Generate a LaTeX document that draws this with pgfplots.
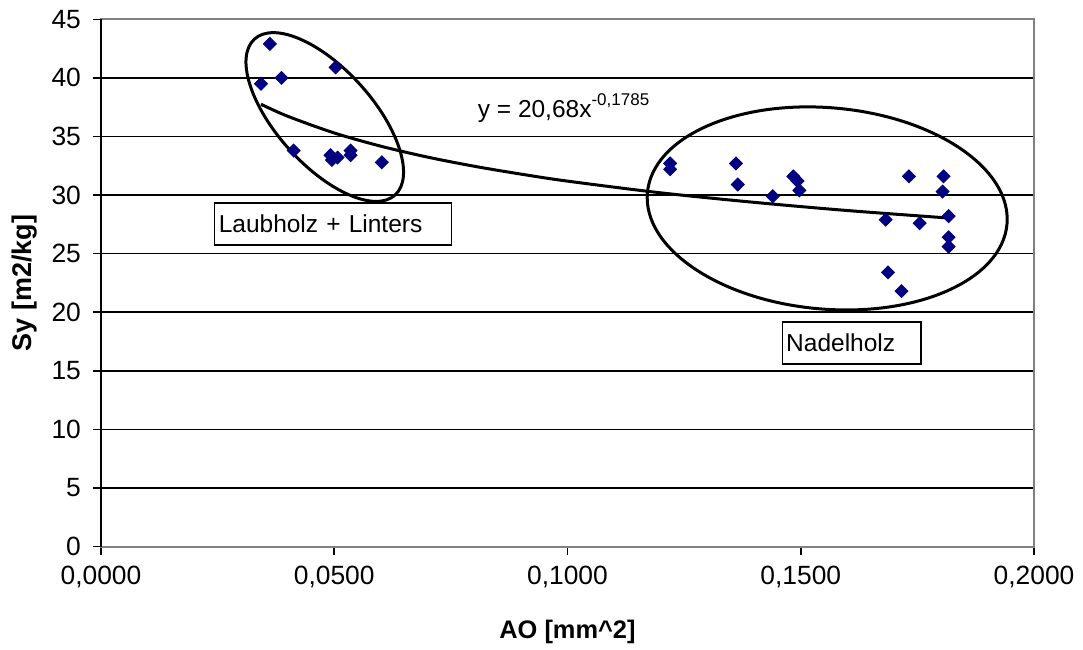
\documentclass[border=0pt]{standalone}
\usepackage{pgfplots}
\pgfplotsset{compat=1.18}
\usepackage{pgfplotstable}
\usepackage{fontspec}
\setmainfont{Liberation Sans}

\definecolor{navy}{RGB}{0,0,128}
\definecolor{framegray}{RGB}{128,128,128}

% Laubholz + Linters
\pgfplotstableread{
x y
0.0343 39.5
0.0362 42.9
0.0387 40.0
0.0503 40.9
0.0413 33.8
0.0492 33.4
0.0495 33.0
0.0507 33.2
0.0535 33.8
0.0535 33.4
0.0602 32.8
}\laubholz

% Nadelholz
\pgfplotstableread{
x y
0.1220 32.7
0.1220 32.2
0.1361 32.7
0.1365 30.9
0.1440 29.9
0.1484 31.6
0.1493 31.2
0.1497 30.4
0.1682 27.9
0.1687 23.4
0.1716 21.8
0.1732 31.6
0.1755 27.6
0.1806 31.6
0.1804 30.3
0.1817 28.2
0.1817 26.4
0.1817 25.6
}\nadelholz

% power trend y = 20,68 x^-0,1785, tabulated
\pgfplotstableread{
x y
0.0343 37.75
0.0400 36.73
0.0500 35.30
0.0600 34.17
0.0700 33.24
0.0800 32.46
0.0900 31.79
0.1000 31.19
0.1200 30.19
0.1400 29.38
0.1600 28.68
0.1817 28.04
}\trend

\newcommand{\chartfont}{\fontsize{12.25}{14.7}\selectfont}
\newcommand{\tickfont}{\fontsize{13.2}{15.8}\selectfont}

\begin{document}
\begin{tikzpicture}[font=\chartfont]
\begin{axis}[
  name=ax,
  scale only axis,
  width=466.6pt, height=263.7pt,
  xmin=0, xmax=0.2, ymin=0, ymax=45,
  xtick={0,0.05,0.1,0.15,0.2},
  ytick={0,5,10,15,20,25,30,35,40,45},
  scaled x ticks=false,
  xtick pos=left, ytick pos=left,
  tick align=outside,
  major tick length=4pt,
  tick style={black, line width=0.75pt},
  ymajorgrids,
  major grid style={black, line width=0.75pt},
  axis line style={draw=framegray, line width=1pt},
  /pgf/number format/assume math mode=true,
  xticklabel style={font=\tickfont, yshift=-2pt,
    /pgf/number format/.cd, fixed, fixed zerofill, precision=4, use comma},
  yticklabel style={font=\tickfont, xshift=-2.5pt},
  xlabel={AO [mm\textasciicircum 2]},
  ylabel={Sy [m2/kg]},
  xlabel style={font=\fontsize{12.7}{15}\selectfont\bfseries,
    at={(axis description cs:0.5,-0.1617)}, anchor=center},
  ylabel style={font=\fontsize{13.5}{16}\selectfont\bfseries,
    at={(axis description cs:-0.082,0.5)}, anchor=center},
  clip=false,
]
% left axis line drawn in black
\draw[black, line width=1pt] (rel axis cs:0,0) -- (rel axis cs:0,1);

\addplot[only marks, mark=square*, mark size=2.3pt,
  mark options={rotate=45, fill=navy, draw=navy}] table[x=x,y=y] {\laubholz};
\addplot[only marks, mark=square*, mark size=2.3pt,
  mark options={rotate=45, fill=navy, draw=navy}] table[x=x,y=y] {\nadelholz};

\addplot[black, line width=1.5pt, no marks, smooth] table[x=x,y=y] {\trend};

% group outlines
\draw[black, line width=1.5pt] (axis cs:0.04797,36.66)
  ellipse [x radius=52.5pt, y radius=24pt, rotate=-48];
\draw[black, line width=1.5pt] (axis cs:0.15567,28.86)
  ellipse [x radius=90.25pt, y radius=50.35pt, rotate=-5];

% group names
\node[draw=black, line width=0.7pt, fill=white, inner xsep=2pt,
  text width=114.5pt, minimum height=21pt, align=left]
  at (axis cs:0.04979,27.53) {Laubholz + Linters};
\node[draw=black, line width=0.7pt, fill=white, inner xsep=2pt,
  text width=65.5pt, minimum height=21pt, align=left]
  at (axis cs:0.16092,17.38) {Nadelholz};

% trend equation
\node[anchor=base west, inner sep=0pt] at (axis cs:0.0807,36.58)
  {y = 20,68x\raisebox{0.5em}{\fontsize{8.5}{10}\selectfont -0,1785}};
\end{axis}
\pgfresetboundingbox
\useasboundingbox ([xshift=-50.5pt,yshift=-51.65pt]ax.south west)
  rectangle ([xshift=24.5pt,yshift=9.65pt]ax.north east);
\end{tikzpicture}
\end{document}
